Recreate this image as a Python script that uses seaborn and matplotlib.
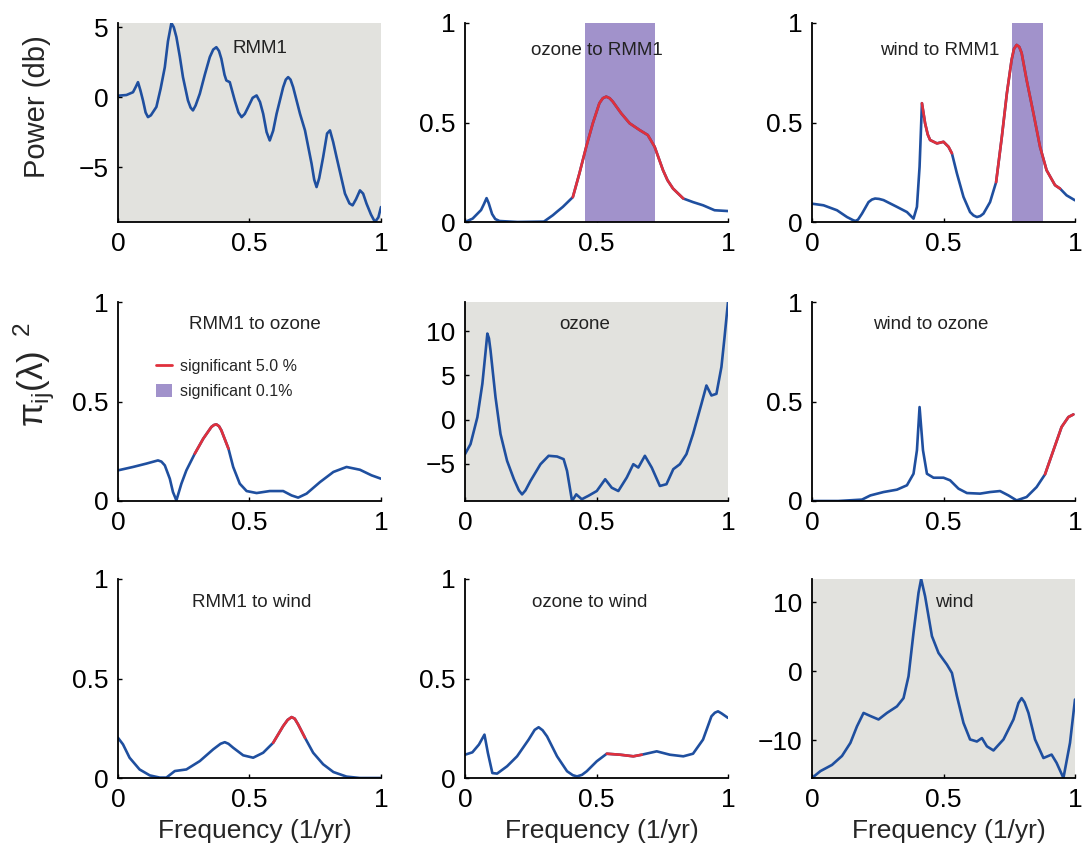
import numpy as np
import pandas as pd
import matplotlib
matplotlib.use("Agg")
import matplotlib.pyplot as plt
from matplotlib.lines import Line2D
from matplotlib.patches import Patch
from matplotlib.ticker import FuncFormatter
import seaborn as sns

sns.set_theme(style="ticks")
plt.rcParams['font.family'] = ['Liberation Sans', 'DejaVu Sans']
plt.rcParams['mathtext.fontset'] = 'custom'
plt.rcParams['mathtext.rm'] = 'Liberation Sans'
plt.rcParams['mathtext.it'] = 'Liberation Sans'

# ---------------- data ----------------
# (1,1) RMM1 spectrum (dB)
rmm1_x = [0.0, 0.032, 0.057, 0.068, 0.076, 0.085, 0.095, 0.105, 0.114, 0.125, 0.146, 0.162, 0.178,
          0.19, 0.203, 0.212, 0.222, 0.235, 0.247, 0.266, 0.276, 0.285, 0.295, 0.311, 0.33, 0.349,
          0.362, 0.374, 0.384, 0.393, 0.405, 0.412, 0.425, 0.444, 0.458, 0.47, 0.482, 0.495, 0.512,
          0.527, 0.54, 0.552, 0.565, 0.577, 0.59, 0.603, 0.628, 0.638, 0.647, 0.656, 0.666, 0.692,
          0.711, 0.736, 0.746, 0.755, 0.765, 0.78, 0.795, 0.806, 0.818, 0.831, 0.863, 0.88, 0.892,
          0.905, 0.92, 0.932, 0.945, 0.962, 0.977, 0.99, 1.0]
rmm1_y = [0.1, 0.15, 0.35, 0.75, 1.07, 0.5, -0.24, -1.1, -1.43, -1.3, -0.7, 0.6, 2.14,
          4.0, 5.3, 5.0, 4.3, 2.9, 1.43, -0.24, -0.75, -0.95, -0.6, 0.24, 1.6, 2.86,
          3.4, 3.57, 3.3, 2.74, 1.6, 1.19, 1.07, -0.24, -1.1, -1.43, -1.2, -0.71, -0.05,
          0.12, -0.35, -1.19, -2.5, -3.1, -2.4, -1.19, 0.71, 1.25, 1.43, 1.25, 0.71, -1.19,
          -2.38, -4.76, -5.9, -6.43, -5.8, -4.29, -2.6, -2.38, -3.2, -4.29, -6.9, -7.6, -7.74,
          -7.3, -6.67, -6.9, -7.62, -8.4, -8.93, -8.6, -7.86]

# (1,2) ozone to RMM1
o2r_x = [0.0, 0.029, 0.061, 0.072, 0.082, 0.09, 0.103, 0.115, 0.131, 0.2, 0.3, 0.334, 0.35,
         0.372, 0.41, 0.435, 0.461, 0.486, 0.511, 0.524, 0.537, 0.55, 0.562, 0.594, 0.626, 0.664,
         0.695, 0.721, 0.753, 0.77, 0.791, 0.83, 0.867, 0.905, 0.949, 1.0]
o2r_y = [0.0, 0.017, 0.06, 0.09, 0.12, 0.095, 0.04, 0.015, 0.005, 0.0, 0.002, 0.034, 0.052,
         0.076, 0.125, 0.244, 0.378, 0.496, 0.597, 0.622, 0.63, 0.622, 0.605, 0.546, 0.496, 0.462,
         0.437, 0.378, 0.26, 0.21, 0.168, 0.118, 0.1, 0.084, 0.059, 0.055]

# (1,3) wind to RMM1
w2r_x = [0.0, 0.044, 0.095, 0.133, 0.155, 0.165, 0.175, 0.19, 0.215, 0.228, 0.24, 0.255, 0.272,
         0.323, 0.361, 0.386, 0.399, 0.409, 0.418, 0.43, 0.44, 0.449, 0.475, 0.5, 0.519, 0.532,
         0.551, 0.576, 0.601, 0.614, 0.627, 0.64, 0.652, 0.677, 0.7, 0.722, 0.741, 0.759, 0.768,
         0.778, 0.788, 0.797, 0.816, 0.842, 0.867, 0.892, 0.924, 0.943, 0.968, 1.0]
w2r_y = [0.092, 0.084, 0.059, 0.025, 0.01, 0.005, 0.012, 0.042, 0.1, 0.113, 0.118, 0.116, 0.11,
         0.076, 0.05, 0.017, 0.076, 0.277, 0.597, 0.496, 0.44, 0.412, 0.395, 0.403, 0.378, 0.345,
         0.244, 0.126, 0.05, 0.033, 0.025, 0.03, 0.042, 0.1, 0.2, 0.43, 0.647, 0.815, 0.87,
         0.89, 0.88, 0.85, 0.714, 0.546, 0.378, 0.26, 0.185, 0.168, 0.134, 0.109]

# (2,1) RMM1 to ozone
r2o_x = [0.0, 0.057, 0.108, 0.152, 0.165, 0.178, 0.197, 0.209, 0.222, 0.241, 0.26, 0.292, 0.324,
         0.355, 0.365, 0.374, 0.384, 0.393, 0.42, 0.438, 0.463, 0.489, 0.527, 0.577, 0.628, 0.66,
         0.685, 0.717, 0.768, 0.819, 0.869, 0.92, 0.964, 1.0]
r2o_y = [0.154, 0.171, 0.188, 0.204, 0.198, 0.179, 0.112, 0.045, 0.003, 0.087, 0.154, 0.238, 0.313,
         0.372, 0.382, 0.385, 0.376, 0.355, 0.263, 0.171, 0.087, 0.05, 0.04, 0.05, 0.05, 0.028,
         0.017, 0.037, 0.095, 0.146, 0.171, 0.157, 0.129, 0.112]

# (2,2) ozone spectrum (dB)
oz_x = [0.0, 0.021, 0.047, 0.066, 0.078, 0.085, 0.091, 0.097, 0.116, 0.135, 0.16, 0.186, 0.205,
        0.217, 0.23, 0.249, 0.287, 0.318, 0.35, 0.375, 0.388, 0.407, 0.423, 0.444, 0.47, 0.501,
        0.533, 0.558, 0.583, 0.615, 0.64, 0.659, 0.684, 0.71, 0.741, 0.766, 0.792, 0.817, 0.842,
        0.867, 0.899, 0.918, 0.937, 0.956, 0.975, 0.987, 1.0]
oz_y = [-3.9, -2.77, 0.27, 4.05, 7.6, 9.73, 9.2, 7.84, 2.54, -1.63, -4.66, -6.74, -8.0,
        -8.45, -8.0, -6.93, -5.04, -4.09, -4.17, -4.47, -5.8, -9.2, -8.45, -9.0, -8.6, -8.07,
        -6.74, -7.7, -8.07, -6.55, -5.04, -5.42, -4.09, -5.42, -7.5, -7.3, -5.6, -5.04, -3.9,
        -1.63, 1.78, 3.86, 2.73, 2.92, 5.95, 9.36, 13.3]

# (2,3) wind to ozone
w2o_x = [0.0, 0.1, 0.19, 0.222, 0.272, 0.323, 0.361, 0.386, 0.399, 0.409, 0.422, 0.437, 0.462,
         0.5, 0.525, 0.557, 0.589, 0.639, 0.677, 0.715, 0.747, 0.778, 0.816, 0.854, 0.886, 0.918,
         0.949, 0.975, 0.994]
w2o_y = [0.0, 0.0, 0.007, 0.028, 0.045, 0.057, 0.079, 0.137, 0.255, 0.472, 0.255, 0.137, 0.117,
         0.117, 0.104, 0.062, 0.04, 0.037, 0.045, 0.05, 0.028, 0.003, 0.02, 0.07, 0.134, 0.255,
         0.372, 0.422, 0.435]

# (3,1) RMM1 to wind
r2w_x = [0.0, 0.019, 0.044, 0.082, 0.121, 0.159, 0.184, 0.216, 0.26, 0.311, 0.362, 0.39, 0.406,
         0.42, 0.438, 0.476, 0.514, 0.552, 0.59, 0.628, 0.645, 0.66, 0.672, 0.685, 0.711, 0.742,
         0.78, 0.819, 0.869, 0.92, 1.0]
r2w_y = [0.202, 0.169, 0.102, 0.043, 0.013, 0.002, 0.002, 0.035, 0.043, 0.085, 0.144, 0.172, 0.18,
         0.172, 0.152, 0.114, 0.102, 0.127, 0.177, 0.261, 0.292, 0.306, 0.298, 0.269, 0.202, 0.127,
         0.069, 0.03, 0.007, 0.0, 0.0]

# (3,2) ozone to wind
o2w_x = [0.0, 0.028, 0.053, 0.074, 0.087, 0.104, 0.122, 0.16, 0.198, 0.242, 0.265, 0.28, 0.295,
         0.312, 0.35, 0.388, 0.41, 0.426, 0.445, 0.463, 0.501, 0.539, 0.59, 0.64, 0.672, 0.729,
         0.779, 0.83, 0.867, 0.905, 0.937, 0.95, 0.962, 0.975, 1.0]
o2w_y = [0.117, 0.129, 0.168, 0.218, 0.126, 0.025, 0.022, 0.059, 0.109, 0.193, 0.242, 0.255, 0.24,
         0.209, 0.109, 0.034, 0.014, 0.008, 0.016, 0.034, 0.084, 0.122, 0.117, 0.109, 0.117, 0.134,
         0.117, 0.109, 0.122, 0.193, 0.31, 0.328, 0.335, 0.325, 0.302]

# (3,3) wind spectrum (dB)
wd_x = [0.0, 0.032, 0.076, 0.114, 0.146, 0.171, 0.196, 0.222, 0.253, 0.285, 0.323, 0.348, 0.367,
        0.386, 0.405, 0.415, 0.43, 0.456, 0.481, 0.513, 0.532, 0.551, 0.576, 0.601, 0.627, 0.646,
        0.665, 0.69, 0.728, 0.766, 0.785, 0.797, 0.808, 0.823, 0.848, 0.88, 0.911, 0.93, 0.956,
        0.981, 1.0]
wd_y = [-15.5, -14.5, -13.6, -12.3, -10.4, -8.0, -6.05, -6.5, -7.0, -6.05, -5.1, -3.9, -0.73,
        5.6, 11.4, 13.4, 10.9, 5.1, 2.66, 0.97, -0.24, -3.6, -7.5, -9.9, -10.2, -9.7,
        -10.9, -11.5, -9.9, -7.0, -4.6, -3.9, -4.5, -6.05, -9.9, -12.6, -12.1, -13.3, -15.5,
        -10.4, -4.1]

titles = [["RMM1", "ozone to RMM1", "wind to RMM1"],
          ["RMM1 to ozone", "ozone", "wind to ozone"],
          ["RMM1 to wind", "ozone to wind", "wind"]]
series = [[(rmm1_x, rmm1_y), (o2r_x, o2r_y), (w2r_x, w2r_y)],
          [(r2o_x, r2o_y), (oz_x, oz_y), (w2o_x, w2o_y)],
          [(r2w_x, r2w_y), (o2w_x, o2w_y), (wd_x, wd_y)]]
# significant at 5% (red) ranges, and at 0.1% (purple bands)
red_ranges = [[[], [(0.41, 0.83)], [(0.418, 0.532), (0.70, 0.943)]],
              [[(0.292, 0.42)], [], [(0.886, 1.0)]],
              [[(0.59, 0.711)], [(0.539, 0.672)], []]]
bands = [[[], [(0.455, 0.723)], [(0.759, 0.88)]],
         [[], [], []],
         [[], [], []]]
spec_ylim = {(0, 0): (-8.93, 5.3), (1, 1): (-9.2, 13.3), (2, 2): (-15.5, 13.4)}
spec_yticks = {(0, 0): [-5, 0, 5], (1, 1): [-5, 0, 5, 10], (2, 2): [-10, 0, 10]}
title_pos = [[(0.54, 0.87), (0.50, 0.86), (0.487, 0.86)],
             [(0.52, 0.885), (0.456, 0.885), (0.45, 0.885)],
             [(0.51, 0.884), (0.475, 0.884), (0.54, 0.884)]]

BLUE = "#1f4f9f"
RED = "#e0303c"
PURPLE = "#a192cb"
GRAY = "#e2e2de"

W, H = 1084, 852
fig = plt.figure(figsize=(W / 100, H / 100), dpi=100)
lefts = [118, 465, 812]
tops = [23, 302, 579]
aw, ah = 263, 199

fmt = FuncFormatter(lambda v, p: f"{v:g}".replace("-", "\u2212"))

axes = {}
for r in range(3):
    for c in range(3):
        ax = fig.add_axes([lefts[c] / W, 1 - (tops[r] + ah) / H, aw / W, ah / H])
        axes[(r, c)] = ax
        x, y = series[r][c]
        df = pd.DataFrame({"f": x, "v": y})
        for (a, b) in bands[r][c]:
            ax.axvspan(a, b, color=PURPLE, lw=0, zorder=1)
        sns.lineplot(data=df, x="f", y="v", ax=ax, color=BLUE, lw=1.9,
                     sort=False, estimator=None, zorder=3, solid_joinstyle="round")
        for (a, b) in red_ranges[r][c]:
            sub = df[(df.f >= a - 1e-9) & (df.f <= b + 1e-9)]
            sns.lineplot(data=sub, x="f", y="v", ax=ax, color=RED, lw=1.9,
                         sort=False, estimator=None, zorder=4, solid_joinstyle="round")
        ax.set_xlim(0, 1)
        if r == c:
            ax.set_facecolor(GRAY)
            ax.set_ylim(*spec_ylim[(r, c)])
            ax.set_yticks(spec_yticks[(r, c)])
        else:
            ax.set_facecolor("white")
            ax.set_ylim(0, 1)
            ax.set_yticks([0, 0.5, 1])
        ax.set_xticks([0, 0.5, 1])
        ax.xaxis.set_major_formatter(fmt)
        ax.yaxis.set_major_formatter(fmt)
        ax.set_xlabel("")
        ax.set_ylabel("")
        for s in ["top", "right"]:
            ax.spines[s].set_visible(False)
        for s in ["left", "bottom"]:
            ax.spines[s].set_linewidth(1.3)
            ax.spines[s].set_color("black")
            ax.spines[s].set_zorder(5)
        ax.tick_params(direction="in", length=3, width=1, labelsize=19, pad=7, colors="black")
        tx, ty = title_pos[r][c]
        ax.text(tx, ty, titles[r][c], transform=ax.transAxes, ha="center", va="center",
                fontsize=13.5, color="#222222", zorder=6)

# legend in (2,1)
handles = [Line2D([], [], color=RED, lw=2), Patch(facecolor=PURPLE, edgecolor="none")]
axes[(1, 0)].legend(handles, ["significant 5.0 %", "significant 0.1%"],
                    loc="upper left", bbox_to_anchor=(0.09, 0.785), frameon=False,
                    fontsize=11.5, handlelength=1.0, handleheight=0.9, handletextpad=0.5,
                    labelspacing=0.6)

fig.text(37 / W, 1 - 107 / H, "Power (db)", rotation=90, ha="center", va="center", fontsize=21)
fig.text(34 / W, 1 - 375 / H, r"$\pi_{ij}(\lambda)^{\ \ 2}$", rotation=90, ha="center",
         va="center", fontsize=25)
for c in range(3):
    fig.text((lefts[c] + aw / 2 + 5) / W, 1 - 831 / H, "Frequency (1/yr)", ha="center",
             va="center", fontsize=19)

fig.savefig("out.png", dpi=100)
